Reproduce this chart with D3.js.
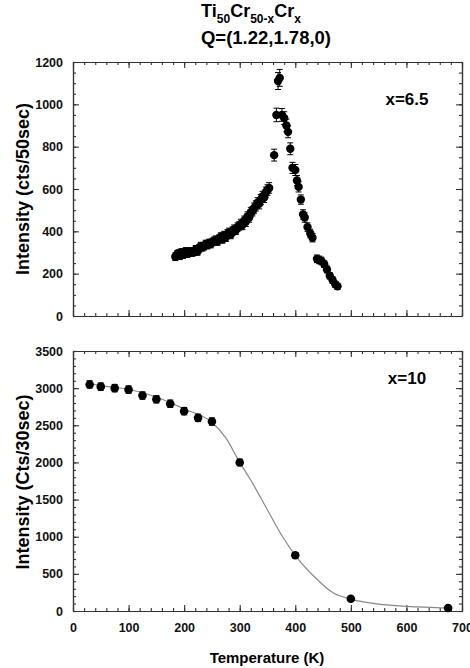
<!DOCTYPE html>
<html><head><meta charset="utf-8">
<script src="https://cdn.jsdelivr.net/npm/d3@7"></script>
<style>
body{margin:0;background:#fff;}
svg{display:block;font-family:"Liberation Sans",Arial,Helvetica,sans-serif;}
.tick text{font-weight:bold;fill:#111;}
.domain{stroke:#333;stroke-width:1.2px;}
.tick line{stroke:#333;stroke-width:1.1px;}
</style></head>
<body>
<svg id="c" width="470" height="668"></svg>
<script>
// ---- data: top panel (x = 6.5) ----
const topT = [184,187,190,192,195,198,200,203,206,209,212,215,218,221,224,227,230,233,236,239,242,245,248,251,254,257,260,263,266,269,272,275,278,281,284,287,290,293,296,299,302,305,308,311,314,317,320,323,326,329,332,335,338,341,344,347,350,353,
  362,366,369,372,376,380,384,387,391,395,400,403,406,410,414,417,422,427,431,439,443,447,452,457,462,467,472,476];
const topI = [280,290,295,285,300,290,295,305,295,300,305,300,305,315,305,320,330,325,330,340,335,345,340,350,355,360,352,365,375,362,380,372,388,395,385,400,410,405,420,425,435,430,450,445,470,465,490,495,510,520,535,530,550,565,560,585,595,605,
  760,950,1110,1125,950,935,900,870,790,700,690,640,610,550,480,465,420,390,370,270,265,260,245,220,190,170,150,140];
const topErr = [18,18,18,18,18,18,18,18,18,18,18,18,18,18,18,18,18,18,18,18,18,18,18,18,18,18,18,18,18,18,20,20,20,20,20,20,20,20,20,20,22,22,22,22,22,22,22,22,24,24,24,24,24,24,24,24,25,25,
  28,32,40,40,30,30,30,28,28,26,26,24,24,22,22,22,20,20,20,18,18,18,16,16,15,15,14,14];

// ---- data: bottom panel (x = 10) ----
const botT = [30,50,75,100,125,150,175,200,225,250,300,400,500,675];
const botI = [3050,3020,3000,2980,2900,2850,2790,2690,2600,2550,2000,750,165,40];
const botErr = [50,50,50,50,50,50,50,50,50,50,45,35,30,25];
// fitted curve
const fitT = [30,50,100,150,200,250,275,300,320,350,378,400,440,468,500,560,620,680];
const fitI = [3060,3035,2985,2880,2720,2540,2330,2000,1760,1360,990,750,420,245,160,85,55,38];

const xTicks = [0,100,200,300,400,500,600,700];
const yTopTicks = [0,200,400,600,800,1000,1200];
const yBotTicks = [0,500,1000,1500,2000,2500,3000,3500];

const svg = d3.select("#c");
const x = d3.scaleLinear().domain([0,700]).range([73,462]);
const yTop = d3.scaleLinear().domain([0,1200]).range([316,62]);
const yBot = d3.scaleLinear().domain([0,3500]).range([611,351]);

function frame(y, yTicks, minorY, showX){
  const g = svg.append("g");
  const [y0,y1] = y.range();
  const minorX = d3.range(0,701,20);
  g.append("g").attr("transform",`translate(0,${y0})`).call(d3.axisBottom(x).tickValues(minorX).tickSizeInner(-3).tickSizeOuter(0).tickFormat(""));
  g.append("g").attr("transform",`translate(0,${y1})`).call(d3.axisTop(x).tickValues(minorX).tickSizeInner(-3).tickSizeOuter(0).tickFormat(""));
  g.append("g").attr("transform",`translate(73,0)`).call(d3.axisLeft(y).tickValues(minorY).tickSizeInner(-3).tickSizeOuter(0).tickFormat(""));
  g.append("g").attr("transform",`translate(462,0)`).call(d3.axisRight(y).tickValues(minorY).tickSizeInner(-3).tickSizeOuter(0).tickFormat(""));
  const bx = g.append("g").attr("transform",`translate(0,${y0})`).call(d3.axisBottom(x).tickValues(xTicks).tickSizeInner(-6).tickSizeOuter(0).tickPadding(12).tickFormat(showX? d3.format("d") : ""));
  bx.selectAll("text").style("font-size","12.5px");
  g.append("g").attr("transform",`translate(0,${y1})`).call(d3.axisTop(x).tickValues(xTicks).tickSizeInner(-6).tickSizeOuter(0).tickFormat(""));
  const ly = g.append("g").attr("transform",`translate(73,0)`).call(d3.axisLeft(y).tickValues(yTicks).tickSizeInner(-6).tickSizeOuter(0).tickPadding(10).tickFormat(d3.format("d")));
  ly.selectAll("text").style("font-size","12.5px");
  g.append("g").attr("transform",`translate(462,0)`).call(d3.axisRight(y).tickValues(yTicks).tickSizeInner(-6).tickSizeOuter(0).tickFormat(""));
  return g;
}

frame(yTop, yTopTicks, d3.range(0,1201,50), false);
frame(yBot, yBotTicks, d3.range(0,3501,100), true);

function points(y, T, I, E, r){
  const g = svg.append("g");
  const data = T.map((t,i)=>({t, v:I[i], e:E[i]}));
  const eb = g.selectAll("g.eb").data(data).join("g").attr("stroke","#000").attr("stroke-width",1);
  eb.append("line").attr("x1",d=>x(d.t)).attr("x2",d=>x(d.t)).attr("y1",d=>y(d.v-d.e)).attr("y2",d=>y(d.v+d.e));
  eb.append("line").attr("x1",d=>x(d.t)-3).attr("x2",d=>x(d.t)+3).attr("y1",d=>y(d.v-d.e)).attr("y2",d=>y(d.v-d.e));
  eb.append("line").attr("x1",d=>x(d.t)-3).attr("x2",d=>x(d.t)+3).attr("y1",d=>y(d.v+d.e)).attr("y2",d=>y(d.v+d.e));
  g.selectAll("circle").data(data).join("circle").attr("cx",d=>x(d.t)).attr("cy",d=>y(d.v)).attr("r",r).attr("fill","#000");
}

const fitData = fitT.map((t,i)=>[t,fitI[i]]);
svg.append("path").datum(fitData)
  .attr("d", d3.line().x(d=>x(d[0])).y(d=>yBot(d[1])).curve(d3.curveMonotoneX))
  .attr("fill","none").attr("stroke","#888").attr("stroke-width",1.2);

points(yTop, topT, topI, topErr, 4.2);
points(yBot, botT, botI, botErr, 4.3);

svg.append("text").attr("x",407).attr("y",105).attr("text-anchor","middle").style("font-size","17px").style("font-weight","bold").text("x=6.5");
svg.append("text").attr("x",407).attr("y",384).attr("text-anchor","middle").style("font-size","17px").style("font-weight","bold").text("x=10");

svg.append("text").attr("transform","translate(29,189) rotate(-90)").attr("text-anchor","middle").style("font-size","18px").style("font-weight","bold").text("Intensity (cts/50sec)");
svg.append("text").attr("transform","translate(29,482) rotate(-90)").attr("text-anchor","middle").style("font-size","18px").style("font-weight","bold").text("Intensity (Cts/30sec)");
svg.append("text").attr("x",267).attr("y",663).attr("text-anchor","middle").style("font-size","15px").style("font-weight","bold").text("Temperature (K)");

const t1 = svg.append("text").attr("x",251).attr("y",17).attr("text-anchor","middle").style("font-size","18px").style("font-weight","bold");
t1.append("tspan").text("Ti");
t1.append("tspan").attr("dy",6).style("font-size","12px").text("50");
t1.append("tspan").attr("dy",-6).text("Cr");
t1.append("tspan").attr("dy",6).style("font-size","12px").text("50-x");
t1.append("tspan").attr("dy",-6).text("Cr");
t1.append("tspan").attr("dy",6).style("font-size","12px").text("x");
svg.append("text").attr("x",266).attr("y",44).attr("text-anchor","middle").style("font-size","18.5px").style("font-weight","bold").text("Q=(1.22,1.78,0)");
</script>
</body></html>
